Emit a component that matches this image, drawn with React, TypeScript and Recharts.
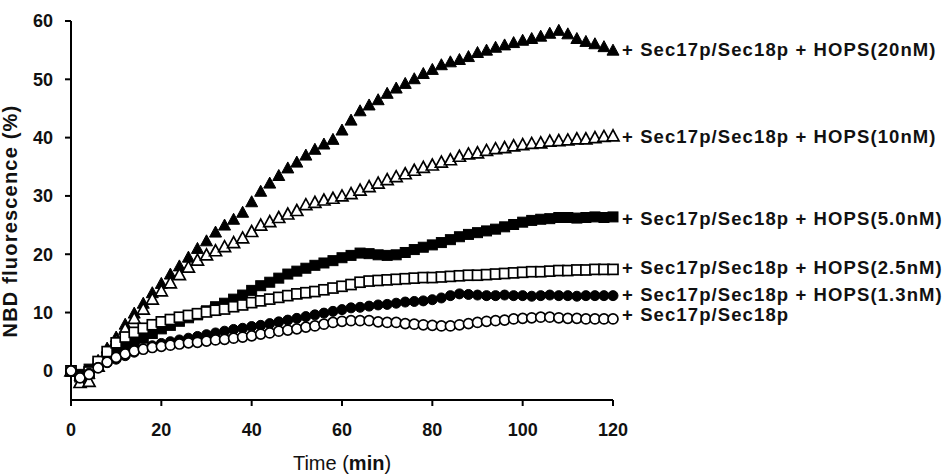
import React from 'react';
import { LineChart, Line, XAxis, YAxis, LabelList } from 'recharts';

// time points (min), one reading every 2 min
const TIME = [
  0, 2, 4, 6, 8, 10, 12, 14, 16, 18, 20, 22, 24, 26, 28, 30, 32, 34, 36, 38, 40,
  42, 44, 46, 48, 50, 52, 54, 56, 58, 60, 62, 64, 66, 68, 70, 72, 74, 76, 78, 80,
  82, 84, 86, 88, 90, 92, 94, 96, 98, 100, 102, 104, 106, 108, 110, 112, 114, 116, 118, 120,
];

const HOPS_20 = [
  0, -0.8, -0.5, 1.8, 3.9, 5.8, 8.0, 9.9, 11.6, 13.4, 15.0, 16.6, 18.0, 19.5, 21.0, 22.3, 23.8, 25.0, 26.0, 27.2, 29.0,
  30.8, 32.2, 33.5, 34.8, 35.8, 37.0, 38.0, 38.9, 39.7, 41.3, 43.0, 44.6, 45.6, 46.5, 47.6, 48.5, 49.3, 50.1, 51.0, 51.7,
  52.5, 53.0, 53.4, 53.9, 54.6, 55.0, 55.5, 55.9, 56.3, 56.7, 57.0, 57.4, 57.9, 58.4, 57.8, 57.0, 56.5, 56.1, 55.6, 55.0,
];

const HOPS_10 = [
  0, -2.0, -1.8, 0.8, 3.2, 5.2, 7.2, 9.0, 10.6, 12.3, 13.7, 15.1, 16.5, 17.8, 19.0, 19.9, 20.6, 21.3, 22.0, 22.8, 23.9,
  25.0, 25.6, 26.3, 26.9, 27.5, 28.5, 28.9, 29.3, 29.6, 30.0, 30.4, 31.0, 31.6, 32.2, 32.8, 33.3, 33.8, 34.4, 34.9, 35.3,
  35.8, 36.2, 36.8, 37.2, 37.4, 37.8, 38.1, 38.3, 38.6, 38.8, 39.0, 39.1, 39.4, 39.5, 39.6, 39.8, 39.8, 40.0, 40.2, 40.3,
];

const HOPS_5 = [
  0, -0.6, 0.3, 1.2, 2.4, 3.3, 4.0, 4.8, 5.6, 6.4, 7.2, 7.8, 8.5, 9.1, 9.6, 10.3, 11.0, 11.6, 12.3, 13.0, 13.8,
  14.6, 15.2, 15.9, 16.6, 17.1, 17.6, 18.1, 18.5, 18.9, 19.4, 19.8, 20.2, 20.1, 19.9, 19.8, 19.9, 20.3, 20.8, 21.2, 21.6,
  22.0, 22.5, 23.0, 23.4, 23.7, 24.0, 24.3, 24.7, 25.1, 25.5, 25.8, 26.0, 26.1, 26.3, 26.3, 26.2, 26.3, 26.4, 26.3, 26.4,
];

const HOPS_2_5 = [
  0, -1.0, -0.2, 1.6, 3.3, 4.8, 5.8, 6.6, 7.3, 7.9, 8.4, 8.8, 9.2, 9.5, 9.8, 10.1, 10.4, 10.6, 11.0, 11.3, 11.7,
  12.0, 12.3, 12.6, 12.9, 13.2, 13.4, 13.6, 13.9, 14.2, 14.5, 14.8, 15.2, 15.4, 15.5, 15.6, 15.7, 15.8, 15.9, 16.0, 16.0,
  16.1, 16.2, 16.3, 16.4, 16.4, 16.5, 16.6, 16.7, 16.8, 16.9, 17.0, 17.0, 17.1, 17.2, 17.2, 17.3, 17.3, 17.4, 17.4, 17.4,
];

const HOPS_1_3 = [
  0, -0.9, -0.4, 0.6, 1.4, 2.0, 2.6, 3.2, 3.8, 4.3, 4.7, 5.0, 5.3, 5.6, 5.9, 6.2, 6.5, 6.8, 7.1, 7.3, 7.6,
  7.8, 8.1, 8.4, 8.7, 9.0, 9.3, 9.6, 9.9, 10.2, 10.5, 10.8, 10.9, 11.1, 11.3, 11.4, 11.6, 11.8, 11.9, 12.0, 12.2,
  12.5, 12.9, 13.2, 13.1, 13.0, 12.9, 12.9, 13.0, 12.9, 12.9, 12.8, 12.9, 13.0, 12.9, 12.9, 12.8, 12.9, 12.9, 12.9, 12.9,
];

const NO_HOPS = [
  0, -1.2, -0.6, 0.5, 1.5, 2.3, 2.9, 3.4, 3.7, 4.0, 4.2, 4.4, 4.6, 4.8, 4.9, 5.1, 5.3, 5.4, 5.6, 5.8, 6.0,
  6.3, 6.5, 6.8, 7.0, 7.2, 7.5, 7.7, 8.0, 8.3, 8.5, 8.6, 8.6, 8.6, 8.4, 8.3, 8.3, 8.1, 8.0, 7.9, 7.8,
  7.7, 7.7, 7.9, 8.1, 8.3, 8.5, 8.6, 8.7, 8.9, 9.0, 9.1, 9.2, 9.2, 9.1, 9.0, 9.0, 8.9, 8.9, 8.9, 8.9,
];

const X_TICKS = [0, 20, 40, 60, 80, 100, 120];
const Y_TICKS = [0, 10, 20, 30, 40, 50, 60];

const FONT = '"Liberation Sans", Arial, sans-serif';

type Shape = 'triangle' | 'square' | 'circle';

const SERIES: Array<{
  key: string;
  name: string;
  values: number[];
  shape: Shape;
  filled: boolean;
  dy: number;
}> = [
  { key: 'h20', name: '+ Sec17p/Sec18p + HOPS(20nM)', values: HOPS_20, shape: 'triangle', filled: true, dy: -1 },
  { key: 'h10', name: '+ Sec17p/Sec18p + HOPS(10nM)', values: HOPS_10, shape: 'triangle', filled: false, dy: 1 },
  { key: 'h5', name: '+ Sec17p/Sec18p + HOPS(5.0nM)', values: HOPS_5, shape: 'square', filled: true, dy: 2 },
  { key: 'h25', name: '+ Sec17p/Sec18p + HOPS(2.5nM)', values: HOPS_2_5, shape: 'square', filled: false, dy: -2 },
  { key: 'h13', name: '+ Sec17p/Sec18p + HOPS(1.3nM)', values: HOPS_1_3, shape: 'circle', filled: true, dy: -1.5 },
  { key: 'none', name: '+ Sec17p/Sec18p', values: NO_HOPS, shape: 'circle', filled: false, dy: -4.5 },
];

const data = TIME.map((t, i) => {
  const row: Record<string, number> = { t };
  SERIES.forEach((s) => {
    row[s.key] = s.values[i];
  });
  return row;
});

function makeDot(shape: Shape, filled: boolean) {
  return (props: any) => {
    const { cx, cy, index } = props;
    if (cx == null || cy == null) return <g key={`d-${index}`} />;
    const fill = filled ? '#000' : '#fff';
    const sw = filled ? 1 : 1.7;
    if (shape === 'triangle') {
      const pts = `${cx},${cy - 6} ${cx - 6},${cy + 5} ${cx + 6},${cy + 5}`;
      return <polygon key={`d-${index}`} points={pts} fill={fill} stroke="#000" strokeWidth={sw} />;
    }
    if (shape === 'square') {
      return (
        <rect key={`d-${index}`} x={cx - 5} y={cy - 5} width={10} height={10} fill={fill} stroke="#000" strokeWidth={sw} />
      );
    }
    return <circle key={`d-${index}`} cx={cx} cy={cy} r={5} fill={fill} stroke="#000" strokeWidth={sw} />;
  };
}

function makeEndLabel(name: string, dy: number) {
  return (props: any) => {
    const { x, y, index } = props;
    if (index !== TIME.length - 1) return null;
    return (
      <text
        x={x + 9}
        y={y + dy}
        dominantBaseline="central"
        fontFamily={FONT}
        fontWeight="bold"
        fontSize={18.5}
        letterSpacing={1.1}
        fill="#111"
      >
        {name}
      </text>
    );
  };
}

export default function App() {
  return (
    <div style={{ position: 'absolute', left: 0, top: 0, background: '#fff' }}>
      <LineChart
        width={950}
        height={476}
        data={data}
        margin={{ top: 21, right: 337, bottom: 0, left: 0 }}
      >
        <XAxis
          dataKey="t"
          type="number"
          domain={[0, 120]}
          ticks={X_TICKS}
          height={76}
          stroke="#000"
          axisLine={{ stroke: '#000', strokeWidth: 2 }}
          tickLine={{ stroke: '#000', strokeWidth: 2 }}
          tickSize={6}
          tickMargin={17}
          tick={{ fill: '#111', fontSize: 18, fontWeight: 'bold', fontFamily: FONT }}
          label={() => (
            <text x={342} y={470} textAnchor="middle" fontFamily={FONT} fontSize={20} fill="#111">
              Time (<tspan fontWeight="bold">min</tspan>)
            </text>
          )}
        />
        <YAxis
          type="number"
          domain={[-5, 60]}
          ticks={Y_TICKS}
          width={71}
          allowDataOverflow
          axisLine={{ stroke: '#000', strokeWidth: 2 }}
          tickLine={{ stroke: '#000', strokeWidth: 2 }}
          tickSize={6}
          tickMargin={12}
          tick={{ fill: '#111', fontSize: 18, fontWeight: 'bold', fontFamily: FONT }}
          label={() => (
            <text
              x={17}
              y={221}
              transform="rotate(-90 17 221)"
              textAnchor="middle"
              fontFamily={FONT}
              fontSize={20}
              fontWeight="bold"
              letterSpacing={1.2}
              fill="#111"
            >
              NBD fluorescence (%)
            </text>
          )}
        />
        {SERIES.map((s) => (
          <Line
            key={s.key}
            dataKey={s.key}
            stroke="none"
            isAnimationActive={false}
            dot={makeDot(s.shape, s.filled)}
            activeDot={false}
          >
            <LabelList dataKey={s.key} content={makeEndLabel(s.name, s.dy)} />
          </Line>
        ))}
      </LineChart>
    </div>
  );
}
